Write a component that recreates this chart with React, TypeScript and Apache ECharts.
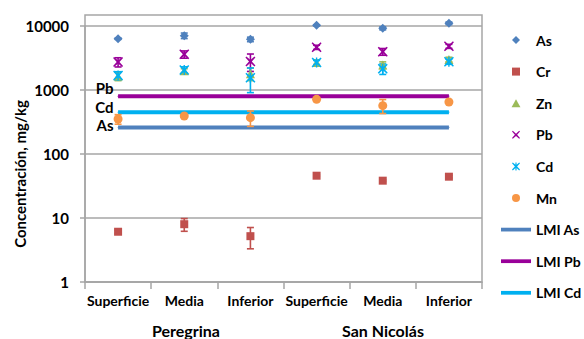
import React, { useEffect, useRef } from "react";
import * as echarts from "echarts";

// Sampling depths (two sites, three depths each)
const categories = ["Superficie", "Media", "Inferior", "Superficie", "Media", "Inferior"];
const sites = ["Peregrina", "San Nicolás"];
const yTicks = [1, 10, 100, 1000, 10000];

// Mean concentrations (mg/kg) and their error half-widths
const asVals = [6340, 7060, 6190, 10240, 9200, 11020];
const asErr = [150, 700, 500, 200, 500, 500];
const crVals = [6.1, 8.0, 5.2, 45.8, 38.3, 44.2];
const crErr = [0.4, 1.8, 1.9, 1.2, 1.2, 2.0];
const znVals = [1650, 2000, 1800, 2700, 2450, 3000];
const znErr = [250, 150, 400, 250, 300, 250];
const pbVals = [2740, 3610, 2800, 4650, 3970, 4820];
const pbErr = [450, 470, 850, 350, 480, 350];
const cdVals = [1680, 2050, 1560, 2700, 2150, 2770];
const cdErr = [250, 250, 650, 200, 400, 250];
const mnVals = [352, 392, 370, 715, 569, 649];
const mnErr = [60, 15, 100, 40, 140, 25];

// Maximum permissible limits (LMI)
const lmiAs = 260;
const lmiPb = 800;
const lmiCd = 450;

const FONT = "Lato, 'Open Sans', sans-serif";

const C = {
  As: "#4F81BD",
  Cr: "#C0504D",
  Zn: "#9BBB59",
  Pb: "#990099",
  Cd: "#00B0F0",
  Mn: "#F79646",
};

// Marker outlines as paths so the legend keeps their proportions
const DIAMOND = "path://M5,0 L10,5 L5,10 L0,5 Z";
const SQUARE = "path://M0,0 L10,0 L10,10 L0,10 Z";
const TRIANGLE = "path://M5,0 L10,9 L0,9 Z";
const CIRCLE = "path://M5,0 A5,5 0 1,1 5,10 A5,5 0 1,1 5,0 Z";
const X_SYMBOL = "path://M1,0 L5,3.6 L9,0 L10,1 L6.4,5 L10,9 L9,10 L5,6.4 L1,10 L0,9 L3.6,5 L0,1 Z";
const STAR_SYMBOL =
  "path://M1,0 L5,3.6 L9,0 L10,1 L6.4,5 L10,9 L9,10 L5,6.4 L1,10 L0,9 L3.6,5 L0,1 Z M4.3,0 L5.7,0 L5.7,10 L4.3,10 Z";
const LINE_ICON = "path://M0,0 L32,0 L32,4 L0,4 Z";

function errorSeries(name: string, vals: number[], errs: number[], color: string) {
  return {
    name: name + " error",
    type: "custom",
    z: 3,
    clip: false,
    data: vals.map((v, i) => [i, v - errs[i], v + errs[i]]),
    encode: { x: 0, y: [1, 2] },
    renderItem: (_params: any, api: any) => {
      const x = api.value(0);
      const lo = api.coord([x, api.value(1)]);
      const hi = api.coord([x, api.value(2)]);
      const w = 3.5;
      const style = { stroke: color, lineWidth: 1.6 };
      return {
        type: "group",
        children: [
          { type: "line", shape: { x1: hi[0], y1: hi[1], x2: lo[0], y2: lo[1] }, style },
          { type: "line", shape: { x1: hi[0] - w, y1: hi[1], x2: hi[0] + w, y2: hi[1] }, style },
          { type: "line", shape: { x1: lo[0] - w, y1: lo[1], x2: lo[0] + w, y2: lo[1] }, style },
        ],
      };
    },
  };
}

function pointSeries(name: string, vals: number[], color: string, symbol: string, size: number) {
  return {
    name,
    type: "scatter",
    z: 4,
    clip: false,
    symbol,
    symbolSize: size,
    itemStyle: { color, opacity: 1 },
    data: vals,
  };
}

function limitSeries(name: string, value: number, color: string, tag: string, dy: number) {
  return {
    name,
    type: "line",
    z: 2,
    symbol: "circle",
    symbolSize: 1,
    itemStyle: { color },
    lineStyle: { color, width: 4 },
    data: categories.map((_, i) =>
      i === 0
        ? {
            value,
            label: {
              show: true,
              position: "left",
              distance: 4,
              offset: [0, dy],
              formatter: tag,
              color: "#000",
              fontFamily: FONT,
              fontWeight: "bold",
              fontSize: 15,
            },
          }
        : value
    ),
  };
}

export default function App() {
  const ref = useRef<HTMLDivElement>(null);

  useEffect(() => {
    if (!ref.current) return;
    const chart = echarts.init(ref.current, undefined, { renderer: "svg" });
    const gray = "#A6A6A6";

    chart.setOption({
      animation: false,
      backgroundColor: "#fff",
      grid: { left: 85, right: 102, top: 26, bottom: 57 },
      xAxis: {
        type: "category",
        data: categories,
        boundaryGap: true,
        axisLine: { lineStyle: { color: gray, width: 1.5 } },
        axisTick: { show: true, length: 7, interval: 0, lineStyle: { color: gray, width: 1.5 } },
        axisLabel: {
          interval: 0,
          margin: 11,
          color: "#000",
          fontFamily: FONT,
          fontWeight: "bold",
          fontSize: 14,
        },
      },
      yAxis: {
        type: "log",
        logBase: 10,
        min: yTicks[0],
        max: yTicks[yTicks.length - 1],
        axisLine: { show: true, lineStyle: { color: gray, width: 1.5 } },
        axisTick: { show: true, length: 5, lineStyle: { color: gray, width: 1.5 } },
        splitLine: { show: true, lineStyle: { color: gray, width: 1.5 } },
        axisLabel: {
          margin: 16,
          color: "#000",
          fontFamily: FONT,
          fontWeight: "bold",
          fontSize: 15,
          formatter: (v: number) => String(Math.round(v)),
        },
      },
      legend: {
        orient: "vertical",
        left: 496,
        top: 27,
        itemWidth: 30,
        itemHeight: 8,
        itemGap: 15.6,
        symbolKeepAspect: true,
        textStyle: {
          color: "#000",
          fontFamily: FONT,
          fontWeight: "bold",
          fontSize: 14,
          lineHeight: 16,
        },
        data: [
          "As",
          "Cr",
          "Zn",
          "Pb",
          "Cd",
          "Mn",
          { name: "LMI As", icon: LINE_ICON },
          { name: "LMI Pb", icon: LINE_ICON },
          { name: "LMI Cd", icon: LINE_ICON },
        ],
      },
      graphic: [
        {
          type: "rect",
          silent: true,
          z: -1,
          shape: { x: 85, y: 15, width: 397, height: 267 },
          style: { fill: "none", stroke: gray, lineWidth: 1.5 },
        },
        {
          type: "text",
          x: 20,
          y: 174,
          rotation: Math.PI / 2,
          style: {
            text: "Concentración, mg/kg",
            fill: "#000",
            font: `bold 15px ${FONT}`,
            align: "center",
            verticalAlign: "middle",
          },
        },
        {
          type: "text",
          x: 186,
          y: 330,
          style: {
            text: sites[0],
            fill: "#000",
            font: `bold 16px ${FONT}`,
            align: "center",
            verticalAlign: "middle",
          },
        },
        {
          type: "text",
          x: 383,
          y: 330,
          style: {
            text: sites[1],
            fill: "#000",
            font: `bold 16px ${FONT}`,
            align: "center",
            verticalAlign: "middle",
          },
        },
      ],
      series: [
        limitSeries("LMI As", lmiAs, C.As, "As", -2),
        limitSeries("LMI Pb", lmiPb, C.Pb, "Pb", -8),
        limitSeries("LMI Cd", lmiCd, C.Cd, "Cd", -5),
        errorSeries("As", asVals, asErr, C.As),
        errorSeries("Cr", crVals, crErr, C.Cr),
        errorSeries("Zn", znVals, znErr, C.Zn),
        errorSeries("Pb", pbVals, pbErr, C.Pb),
        errorSeries("Cd", cdVals, cdErr, C.Cd),
        errorSeries("Mn", mnVals, mnErr, C.Mn),
        pointSeries("As", asVals, C.As, DIAMOND, 9),
        pointSeries("Cr", crVals, C.Cr, SQUARE, 8),
        pointSeries("Zn", znVals, C.Zn, TRIANGLE, 9),
        pointSeries("Pb", pbVals, C.Pb, X_SYMBOL, 10),
        pointSeries("Cd", cdVals, C.Cd, STAR_SYMBOL, 10),
        pointSeries("Mn", mnVals, C.Mn, CIRCLE, 9),
      ],
    });

    return () => chart.dispose();
  }, []);

  return (
    <div
      ref={ref}
      style={{ position: "absolute", left: 0, top: 0, width: 584, height: 339, background: "#fff" }}
    />
  );
}
